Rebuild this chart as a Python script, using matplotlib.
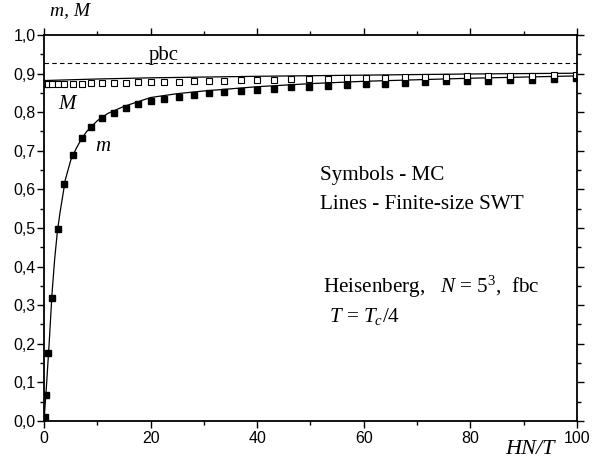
import matplotlib
matplotlib.use("Agg")
import matplotlib.pyplot as plt
from matplotlib.ticker import MultipleLocator, FuncFormatter

# ─── Data ─────────────────────────────────────────────────────────────────────

# MC points, shared HN/T positions
mc_x = [0.2, 0.4, 0.8, 1.45, 2.6, 3.8, 5.4, 7.1, 8.9, 10.9, 13.1, 15.3, 17.6,
        20.1, 22.5, 25.3, 28.1, 31.0, 33.8, 36.9, 40.0, 43.2, 46.4, 49.8,
        53.3, 56.8, 60.4, 64.0, 67.7, 71.5, 75.4, 79.4, 83.4, 87.4, 91.6,
        95.7, 99.8]
mc_m = [0.011, 0.067, 0.177, 0.318, 0.497, 0.614, 0.688, 0.732, 0.762, 0.784,
        0.799, 0.811, 0.820, 0.828, 0.834, 0.840, 0.845, 0.850, 0.852, 0.855,
        0.858, 0.861, 0.864, 0.866, 0.869, 0.870, 0.873, 0.873, 0.876, 0.877,
        0.880, 0.881, 0.882, 0.883, 0.884, 0.885, 0.888]
mc_M = [0.873, 0.873, 0.873, 0.873, 0.873, 0.873, 0.874, 0.874, 0.875, 0.875,
        0.876, 0.876, 0.877, 0.878, 0.879, 0.879, 0.880, 0.881, 0.881, 0.883,
        0.883, 0.884, 0.885, 0.886, 0.887, 0.888, 0.888, 0.889, 0.890, 0.891,
        0.892, 0.893, 0.893, 0.894, 0.895, 0.896, 0.897]

# finite-size SWT curves
swt_m_x = [0, 0.5, 1, 1.5, 2, 2.5, 3, 4, 5, 6, 7, 8, 10, 12, 15, 20, 25, 30,
           40, 50, 60, 70, 80, 90, 100]
swt_m = [0.0, 0.10, 0.21, 0.33, 0.42, 0.49, 0.54, 0.625, 0.675, 0.705, 0.73,
         0.75, 0.778, 0.797, 0.815, 0.838, 0.848, 0.855, 0.866, 0.874, 0.880,
         0.884, 0.888, 0.891, 0.894]
swt_M_x = [0, 10, 20, 40, 60, 80, 100]
swt_M = [0.882, 0.886, 0.889, 0.893, 0.896, 0.899, 0.901]

pbc_level = 0.927

# ─── Style ────────────────────────────────────────────────────────────────────

serif = "Liberation Serif"
plt.rcParams["mathtext.fontset"] = "custom"
plt.rcParams["mathtext.rm"] = serif
plt.rcParams["mathtext.it"] = serif + ":italic"
plt.rcParams["font.family"] = "Liberation Sans"

# ─── Figure ───────────────────────────────────────────────────────────────────

fig = plt.figure(figsize=(5.99, 4.58), dpi=100)
ax = fig.add_axes([0.0735, 0.0808, 0.8895, 0.8428])

ax.plot(swt_m_x, swt_m, color="k", lw=0.9)
ax.plot(swt_M_x, swt_M, color="k", lw=0.9)
ax.axhline(pbc_level, color="k", lw=0.8, ls=(0, (4, 3)))

ax.plot(mc_x, mc_m, ls="none", marker="s", ms=4.3, color="k")
ax.plot(mc_x, mc_M, ls="none", marker="s", ms=4.0, mfc="white", mec="k",
        mew=0.8)

ax.set_xlim(0, 100)
ax.set_ylim(0, 1.0)
ax.xaxis.set_major_locator(MultipleLocator(20))
ax.xaxis.set_minor_locator(MultipleLocator(10))
ax.yaxis.set_major_locator(MultipleLocator(0.1))
ax.yaxis.set_minor_locator(MultipleLocator(0.05))
ax.yaxis.set_major_formatter(FuncFormatter(lambda v, p: f"{v:.1f}".replace(".", ",")))

ax.tick_params(which="both", direction="out", top=True, right=True,
               labelsize=11.5, width=1.0)
ax.tick_params(which="major", length=5)
ax.tick_params(which="minor", length=3)
ax.tick_params(axis="y", pad=1)
ax.tick_params(axis="x", pad=2)
for s in ax.spines.values():
    s.set_linewidth(1.3)

ax.text(22.5, 0.935, "pbc", family=serif, fontsize=15, ha="center",
        va="baseline")
ax.text(4.3, 0.819, "M", family=serif, style="italic", fontsize=15,
        ha="center", va="center")
ax.text(11.0, 0.712, "m", family=serif, style="italic", fontsize=15,
        ha="center", va="center")
ax.text(51.8, 0.637, "Symbols - MC", family=serif, fontsize=15.2, va="center")
ax.text(51.8, 0.562, "Lines - Finite-size SWT", family=serif, fontsize=15.2,
        va="center")
ax.text(52.3, 0.347, r"Heisenberg,   $\it{N}$ = 5$^3$,  fbc", family=serif,
        fontsize=15.2, va="center")
ax.text(53.5, 0.272, r"$\it{T}$ = $\it{T_c}$/4", family=serif, fontsize=15.2,
        va="center")

fig.text(0.083, 0.976, "m, M", family=serif, style="italic", fontsize=14,
         va="center")
ax.text(91.2, -0.075, "HN/T", family=serif, style="italic", fontsize=16,
        ha="center", va="center")

fig.savefig("out.png", dpi=100)
